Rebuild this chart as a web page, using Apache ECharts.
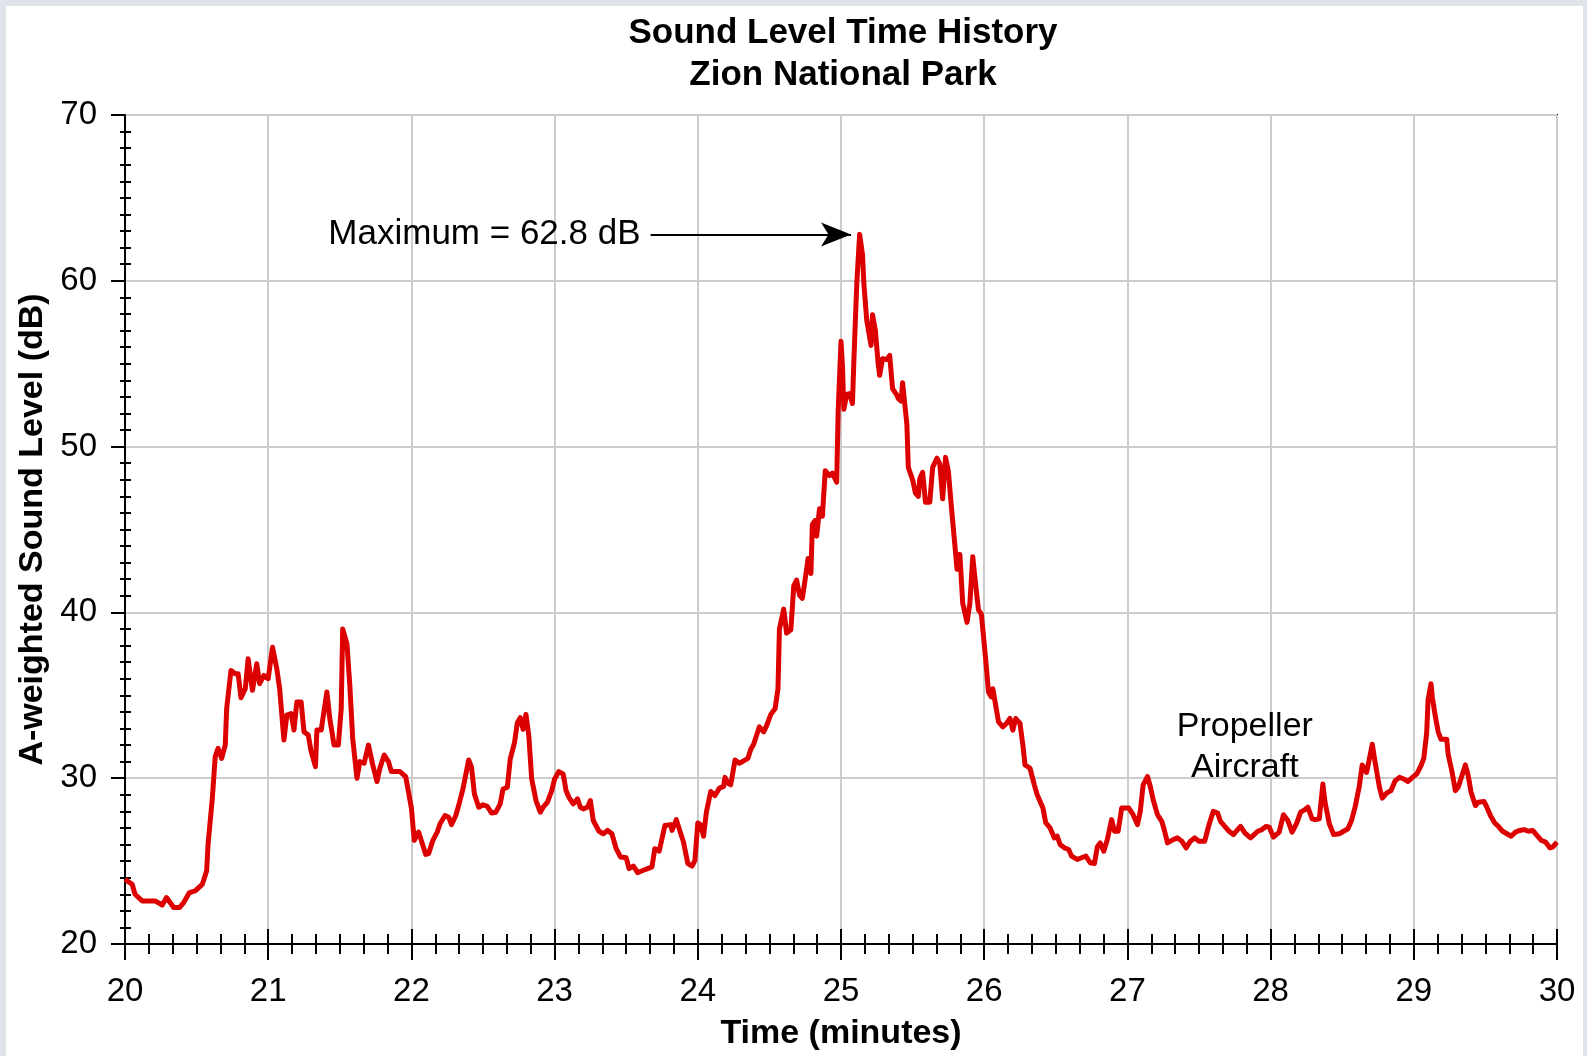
<!DOCTYPE html>
<html>
<head>
<meta charset="utf-8">
<title>Sound Level Time History</title>
<script src="https://cdn.jsdelivr.net/npm/echarts@6/dist/echarts.min.js"></script>
<style>
  html, body { margin: 0; padding: 0; background: #dfe4ea; }
  #sheet { position: absolute; left: 6px; top: 6px; width: 1577px; height: 1050px; background: #fff; }
  #chart { position: absolute; left: 0; top: 0; width: 1587px; height: 1056px; }
</style>
</head>
<body>
<div id="sheet"></div>
<div id="chart"></div>
<script>
// time (minutes) and A-weighted level (dB)
const timeMin = [
  20.00, 20.05, 20.07, 20.12, 20.21, 20.26, 20.29, 20.34, 20.38, 20.41,
  20.45, 20.49, 20.54, 20.57, 20.58, 20.61, 20.63, 20.65, 20.675, 20.70,
  20.71, 20.74, 20.77, 20.79, 20.81, 20.84, 20.86, 20.89, 20.92, 20.94,
  20.97, 21.00, 21.03, 21.06, 21.08, 21.11, 21.13, 21.16, 21.18, 21.20,
  21.23, 21.25, 21.28, 21.30, 21.33, 21.34, 21.37, 21.41, 21.43, 21.46,
  21.49, 21.51, 21.52, 21.55, 21.57, 21.59, 21.62, 21.64, 21.67, 21.70,
  21.73, 21.76, 21.78, 21.81, 21.84, 21.86, 21.92, 21.96,
  22.00, 22.02, 22.05, 22.08, 22.10, 22.12, 22.15, 22.18, 22.20, 22.235,
  22.26, 22.28, 22.31, 22.33, 22.36, 22.40, 22.42, 22.44, 22.47, 22.50,
  22.53, 22.56, 22.59, 22.62, 22.64, 22.67, 22.69, 22.72, 22.74, 22.76,
  22.78, 22.80, 22.82, 22.84, 22.87, 22.90, 22.92, 22.95, 22.98,
  23.00, 23.03, 23.06, 23.08, 23.10, 23.13, 23.16, 23.18, 23.20, 23.23,
  23.25, 23.27, 23.31, 23.34, 23.37, 23.40, 23.43, 23.46, 23.50, 23.52,
  23.55, 23.58, 23.62, 23.65, 23.68, 23.70, 23.73, 23.75, 23.77, 23.81,
  23.82, 23.85, 23.87, 23.90, 23.93, 23.96, 23.98,
  24.00, 24.02, 24.04, 24.06, 24.09, 24.12, 24.15, 24.18, 24.19, 24.21,
  24.23, 24.26, 24.29, 24.32, 24.35, 24.37, 24.39, 24.43, 24.46, 24.48,
  24.51, 24.54, 24.56, 24.57, 24.60, 24.62, 24.65, 24.67, 24.69, 24.71,
  24.73, 24.76, 24.77, 24.79, 24.80, 24.82, 24.83, 24.85, 24.87, 24.89,
  24.92, 24.94, 24.97, 24.98,
  25.00, 25.01, 25.02, 25.04, 25.06, 25.08, 25.09, 25.11, 25.13, 25.15,
  25.16, 25.18, 25.21, 25.22, 25.24, 25.26, 25.27, 25.29, 25.32, 25.34,
  25.36, 25.39, 25.40, 25.42, 25.43, 25.46, 25.47, 25.50, 25.52, 25.54,
  25.55, 25.57, 25.59, 25.62, 25.64, 25.67, 25.69, 25.71, 25.73, 25.75,
  25.77, 25.80, 25.81, 25.83, 25.85, 25.88, 25.90, 25.92, 25.94, 25.96,
  25.98,
  26.01, 26.03, 26.05, 26.06, 26.08, 26.10, 26.13, 26.155, 26.18, 26.20,
  26.22, 26.25, 26.27, 26.285, 26.32, 26.35, 26.37, 26.41, 26.43, 26.46,
  26.49, 26.51, 26.53, 26.56, 26.59, 26.61, 26.65, 26.68, 26.71, 26.74,
  26.77, 26.79, 26.81, 26.835, 26.86, 26.89, 26.91, 26.935, 26.96, 26.98,
  27.01, 27.04, 27.07, 27.09, 27.11, 27.14, 27.16, 27.18, 27.21, 27.24,
  27.26, 27.28, 27.32, 27.35, 27.38, 27.41, 27.44, 27.47, 27.50, 27.54,
  27.57, 27.60, 27.63, 27.65, 27.68, 27.71, 27.74, 27.77, 27.79, 27.82,
  27.86, 27.885, 27.91, 27.94, 27.97,
  27.99, 28.02, 28.06, 28.09, 28.12, 28.15, 28.18, 28.21, 28.24, 28.26,
  28.29, 28.31, 28.34, 28.365, 28.38, 28.41, 28.44, 28.48, 28.51, 28.54,
  28.565, 28.59, 28.62, 28.64, 28.67, 28.70, 28.71, 28.73, 28.76, 28.78,
  28.81, 28.84, 28.87, 28.90, 28.93, 28.96, 28.99,
  29.02, 29.05, 29.07, 29.09, 29.10, 29.12, 29.13, 29.15, 29.17, 29.19,
  29.23, 29.24, 29.27, 29.29, 29.31, 29.34, 29.36, 29.38, 29.40, 29.43,
  29.45, 29.49, 29.51, 29.535, 29.565, 29.59, 29.62, 29.65, 29.68, 29.71,
  29.74, 29.77, 29.80, 29.83, 29.86, 29.89, 29.92, 29.95, 29.97, 30.00
];
const levelDb = [
  23.9, 23.6, 23.0, 22.6, 22.6, 22.35, 22.8, 22.2, 22.2, 22.5,
  23.1, 23.2, 23.6, 24.4, 26.0, 28.8, 31.3, 31.8, 31.2, 32.0,
  34.2, 36.5, 36.3, 36.3, 34.85, 35.4, 37.2, 35.3, 36.9, 35.7,
  36.2, 36.0, 37.9, 36.6, 35.4, 32.3, 33.8, 33.9, 32.9, 34.6,
  34.6, 32.8, 32.6, 31.6, 30.7, 32.9, 32.9, 35.2, 33.6, 32.0,
  32.0, 34.2, 39.0, 38.1, 35.6, 32.4, 30.0, 31.0, 30.9, 32.0,
  30.8, 29.8, 30.6, 31.4, 31.0, 30.4, 30.4, 30.1,
  28.2, 26.25, 26.75, 25.95, 25.4, 25.45, 26.25, 26.75, 27.25, 27.75,
  27.65, 27.2, 27.75, 28.35, 29.35, 31.1, 30.65, 29.05, 28.25, 28.4,
  28.3, 27.9, 27.95, 28.45, 29.35, 29.45, 31.15, 32.15, 33.35, 33.65,
  32.95, 33.85, 32.55, 29.95, 28.65, 27.95, 28.25, 28.55, 29.25,
  29.95, 30.4, 30.25, 29.25, 28.85, 28.45, 28.75, 28.25, 28.15, 28.25,
  28.65, 27.45, 26.8, 26.65, 26.85, 26.65, 25.75, 25.25, 25.2, 24.55,
  24.7, 24.3, 24.45, 24.55, 24.65, 25.75, 25.6, 26.35, 27.15, 27.2,
  26.85, 27.5, 26.95, 26.15, 24.85, 24.7, 25.05,
  27.3, 27.2, 26.5, 27.95, 29.2, 28.95, 29.4, 29.5, 30.05, 29.7,
  29.6, 31.1, 30.9, 31.05, 31.2, 31.75, 32.05, 33.1, 32.8, 33.15,
  33.85, 34.2, 35.4, 39.0, 40.2, 38.75, 38.95, 41.6, 41.95, 41.05,
  40.85, 42.6, 43.25, 42.35, 45.3, 45.55, 44.6, 46.25, 45.8, 48.55,
  48.25, 48.4, 47.85, 52.1,
  56.35, 54.9, 52.25, 53.15, 53.2, 52.6, 55.2, 59.8, 62.8, 61.6,
  59.8, 57.6, 56.1, 57.95, 57.0, 54.95, 54.3, 55.3, 55.25, 55.5,
  53.5, 53.1, 52.9, 52.75, 53.85, 51.35, 48.75, 48.0, 47.2, 47.0,
  48.05, 48.45, 46.65, 46.65, 48.75, 49.3, 48.95, 46.85, 49.35, 48.5,
  46.45, 43.6, 42.6, 43.5, 40.55, 39.4, 40.55, 43.35, 41.7, 40.15,
  39.9,
  37.2, 35.2, 34.9, 35.4, 34.4, 33.4, 33.1, 33.3, 33.6, 32.9,
  33.6, 33.3, 32.0, 30.8, 30.6, 29.6, 29.0, 28.2, 27.3, 27.0,
  26.4, 26.5, 26.0, 25.8, 25.7, 25.3, 25.1, 25.2, 25.3, 24.9,
  24.85, 25.85, 26.1, 25.6, 26.3, 27.5, 26.8, 26.8, 28.2, 28.2,
  28.2, 27.8, 27.2, 28.0, 29.6, 30.1, 29.5, 28.7, 27.8, 27.4,
  26.8, 26.1, 26.3, 26.4, 26.2, 25.8, 26.2, 26.4, 26.2, 26.2,
  27.2, 28.0, 27.9, 27.4, 27.1, 26.8, 26.6, 26.9, 27.1, 26.7,
  26.4, 26.6, 26.8, 26.9, 27.1,
  27.05, 26.45, 26.75, 27.8, 27.45, 26.75, 27.25, 27.95, 28.1, 28.25,
  27.55, 27.5, 27.55, 29.65, 28.55, 27.25, 26.6, 26.65, 26.8, 26.95,
  27.45, 28.25, 29.55, 30.8, 30.35, 31.6, 32.05, 30.95, 29.45, 28.8,
  29.1, 29.25, 29.85, 30.05, 29.95, 29.8, 30.05,
  30.25, 30.75, 31.2, 32.75, 34.75, 35.7, 34.85, 33.75, 32.8, 32.35,
  32.35, 31.45, 30.25, 29.25, 29.45, 30.25, 30.8, 30.15, 29.15, 28.35,
  28.55, 28.6, 28.25, 27.75, 27.3, 27.1, 26.8, 26.65, 26.5, 26.75,
  26.85, 26.9, 26.8, 26.85, 26.55, 26.25, 26.15, 25.8, 25.85, 26.15
];

// annotations
const maxLabel = 'Maximum = 62.8 dB';
const maxLevel = 62.8;
const arrowFrom = 23.67;
const arrowTo = 25.07;
const noteText = 'Propeller\nAircraft';
const notePos = [27.82, 31.9];

const FONT = '"Liberation Sans", Arial, Helvetica, sans-serif';

const series = timeMin.map((t, i) => [t, levelDb[i]]);

const chart = echarts.init(document.getElementById('chart'));

const tickLine = { color: '#000', width: 2 };

chart.setOption({
  backgroundColor: 'transparent',
  animation: false,
  textStyle: { fontFamily: FONT },
  title: {
    text: 'Sound Level Time History\nZion National Park',
    left: 838,
    top: 7,
    textAlign: 'center',
    textStyle: { fontFamily: FONT, fontSize: 35, fontWeight: 'bold', color: '#000', lineHeight: 42 },
  },
  grid: {
    left: 125,
    right: 30,
    top: 115,
    bottom: 110,
    show: true,
    borderColor: '#000',
    borderWidth: 2,
    backgroundColor: 'transparent',
  },
  xAxis: [
    {
      type: 'value',
      min: 20,
      max: 30,
      interval: 1,
      position: 'bottom',
      axisLine: { lineStyle: { color: '#000', width: 2 } },
      axisTick: { show: true, inside: false, length: 16, lineStyle: tickLine },
      minorTick: { show: true, splitNumber: 6, length: 10, lineStyle: tickLine },
      axisLabel: { fontSize: 33, color: '#000', margin: 31, fontFamily: FONT },
      splitLine: { show: true, lineStyle: { color: '#cccccc', width: 2 } },
      name: 'Time (minutes)',
      nameLocation: 'middle',
      nameGap: 73,
      nameTextStyle: { fontSize: 34, fontWeight: 'bold', color: '#000', fontFamily: FONT },
    },
    {
      type: 'value',
      min: 20,
      max: 30,
      interval: 1,
      position: 'bottom',
      axisLine: { show: false },
      axisTick: { show: true, inside: true, length: 15, lineStyle: tickLine },
      minorTick: { show: true, splitNumber: 6, length: 10, lineStyle: tickLine },
      axisLabel: { show: false },
      splitLine: { show: false },
    },
  ],
  yAxis: [
    {
      type: 'value',
      min: 20,
      max: 70,
      interval: 10,
      position: 'left',
      axisLine: { show: true, lineStyle: { color: '#000', width: 2 } },
      axisTick: { show: true, inside: false, length: 14, lineStyle: tickLine },
      minorTick: { show: true, splitNumber: 10, length: 5, lineStyle: tickLine },
      axisLabel: { fontSize: 33, color: '#000', margin: 28, fontFamily: FONT },
      splitLine: { show: true, lineStyle: { color: '#cccccc', width: 2 } },
      name: 'A-weighted Sound Level (dB)',
      nameLocation: 'middle',
      nameGap: 74,
      nameRotate: 90,
      nameTextStyle: { fontSize: 34, fontWeight: 'bold', color: '#000', fontFamily: FONT },
    },
    {
      type: 'value',
      min: 20,
      max: 70,
      interval: 10,
      position: 'left',
      axisLine: { show: false },
      axisTick: { show: false, inside: true },
      minorTick: { show: true, splitNumber: 10, length: 6, lineStyle: tickLine },
      axisLabel: { show: false },
      splitLine: { show: false },
    },
  ],
  series: [
    {
      type: 'line',
      data: series,
      showSymbol: false,
      lineStyle: { color: '#dd0000', width: 5, join: 'round' },
      itemStyle: { color: '#dd0000' },
      z: 5,
      markLine: {
        silent: true,
        symbol: ['none', 'arrow'],
        symbolSize: [18, 30],
        lineStyle: { color: '#000', width: 2, type: 'solid' },
        label: {
          show: true,
          position: 'start',
          distance: 10,
          formatter: maxLabel,
          fontSize: 35,
          color: '#000',
          fontFamily: FONT,
        },
        data: [[{ coord: [arrowFrom, maxLevel] }, { coord: [arrowTo, maxLevel] }]],
      },
      markPoint: {
        silent: true,
        symbol: 'rect',
        symbolSize: 1,
        itemStyle: { color: 'transparent' },
        label: {
          show: true,
          position: 'inside',
          formatter: noteText,
          fontSize: 34,
          lineHeight: 41,
          color: '#000',
          fontFamily: FONT,
        },
        data: [{ coord: notePos }],
      },
    },
  ],
});
</script>
</body>
</html>
